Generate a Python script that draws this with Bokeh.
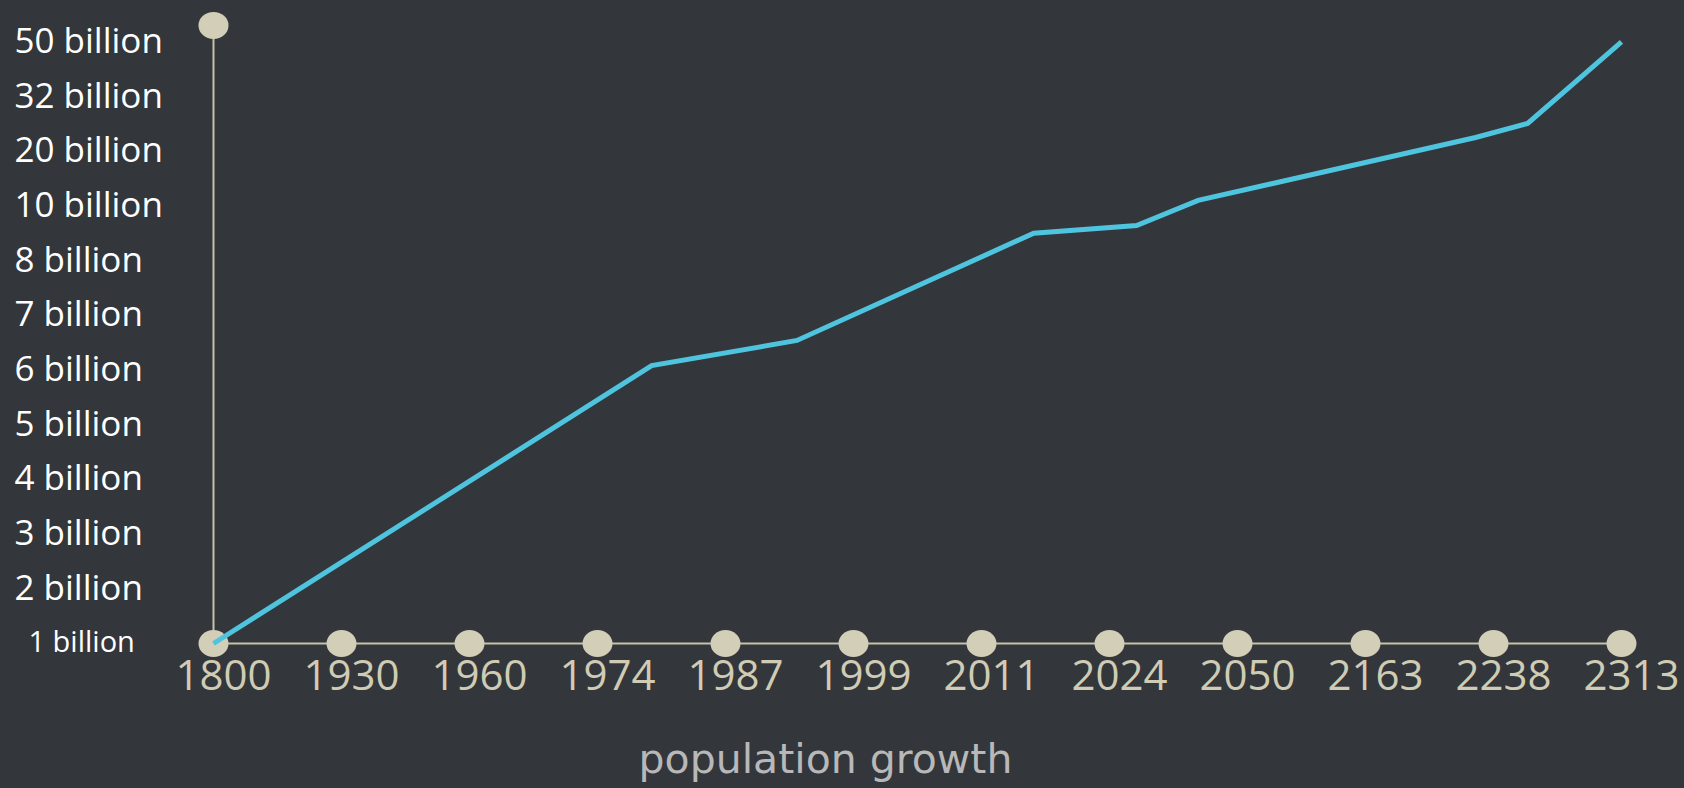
import numpy as np
from bokeh.plotting import figure
from bokeh.models import ColumnDataSource, Range1d
from bokeh.core.properties import value
from bokeh.embed import file_html
from bokeh.resources import INLINE

# ---- data ----
years = ["1800", "1930", "1960", "1974", "1987", "1999", "2011", "2024",
         "2050", "2163", "2238", "2313"]
year_values = [1800, 1930, 1960, 1974, 1987, 1999, 2011, 2024, 2050, 2163, 2238, 2313]
levels = ["1 billion", "2 billion", "3 billion", "4 billion", "5 billion", "6 billion",
          "7 billion", "8 billion", "10 billion", "20 billion", "32 billion", "50 billion"]
level_values = [1, 2, 3, 4, 5, 6, 7, 8, 10, 20, 32, 50]
line_years = [1800, 1979.5, 1993.7, 2016.3, 2029.5, 2042, 2227.5, 2258, 2313]
line_billions = [1, 6.08, 6.54, 9.0, 9.28, 11, 23, 26.1, 50]
title_text = "population growth"

# ---- style ----
BG = "#33363b"
AXIS = "#c6c2ab"
DOT = "#d2ceb7"
TICK = "#d0ccb4"
LINE = "#4fc4de"
W, H = 1684, 788
X0, SX = 213.0, 128.0   # canvas px of first slot, px per slot
Y0, SY = 643.0, 54.7    # canvas px of lowest level, px per level

xi = np.arange(len(years), dtype=float)
yi = np.arange(len(levels), dtype=float)


def to_x(v):
    return np.interp(v, year_values, xi)


def to_y(v):
    return np.interp(v, level_values, yi)


p = figure(width=W, height=H, output_backend="svg", toolbar_location=None,
           x_range=Range1d(-X0 / SX, (W - X0) / SX),
           y_range=Range1d(-(H - Y0) / SY, Y0 / SY),
           x_axis_location=None, y_axis_location=None, min_border=0)
p.background_fill_color = BG
p.border_fill_color = BG
p.outline_line_color = None
p.grid.grid_line_color = None

cap_y = yi[-1] + 0.3  # decorative cap above the top level

# axis lines
p.line([xi[0], xi[-1]], [yi[0], yi[0]], line_color=AXIS, line_width=2)
p.line([xi[0], xi[0]], [yi[0], cap_y], line_color=AXIS, line_width=2)

# dots on the axes
p.ellipse(x=xi, y=np.full(len(xi), yi[0]), width=30, height=27,
          width_units="screen", height_units="screen",
          fill_color=DOT, line_color=None)
p.ellipse(x=[xi[0]], y=[cap_y], width=30, height=27,
          width_units="screen", height_units="screen",
          fill_color=DOT, line_color=None)

# data line
p.line(to_x(line_years), to_y(line_billions), line_color=LINE, line_width=5,
       line_join="miter")

# x labels (baseline ~47px below the axis; renderer places text ~16px lower)
p.text(x=xi + 10 / SX, y=np.full(len(xi), yi[0] - 31 / SY), text=years,
       text_font=value("Open Sans"), text_font_size=value("42px"),
       text_color=TICK, text_align="center", text_baseline="alphabetic")

# y labels
ysrc = ColumnDataSource(dict(
    x=[(14 - X0) / SX if i > 0 else (28 - X0) / SX for i in range(len(levels))],
    y=[v + (2.5 if i > 0 else 3) / SY for i, v in enumerate(yi)],
    text=levels,
    size=["35px" if i > 0 else "29px" for i in range(len(levels))],
))
p.text(x="x", y="y", text="text", source=ysrc, text_font=value("Open Sans"),
       text_font_size="size", text_color="#ffffff", text_align="left",
       text_baseline="alphabetic")

# title
p.text(x=[(825 - X0) / SX], y=[yi[0] - 115 / SY], text=[title_text],
       text_font=value("DejaVu Sans"), text_font_size=value("41px"),
       text_color="#b8b8b8", text_align="center", text_baseline="alphabetic")

template = """
{% block postamble %}
<style>html, body { background: #33363b; }</style>
{% endblock %}
"""
open("out.html", "w").write(file_html(p, INLINE, template=template))
